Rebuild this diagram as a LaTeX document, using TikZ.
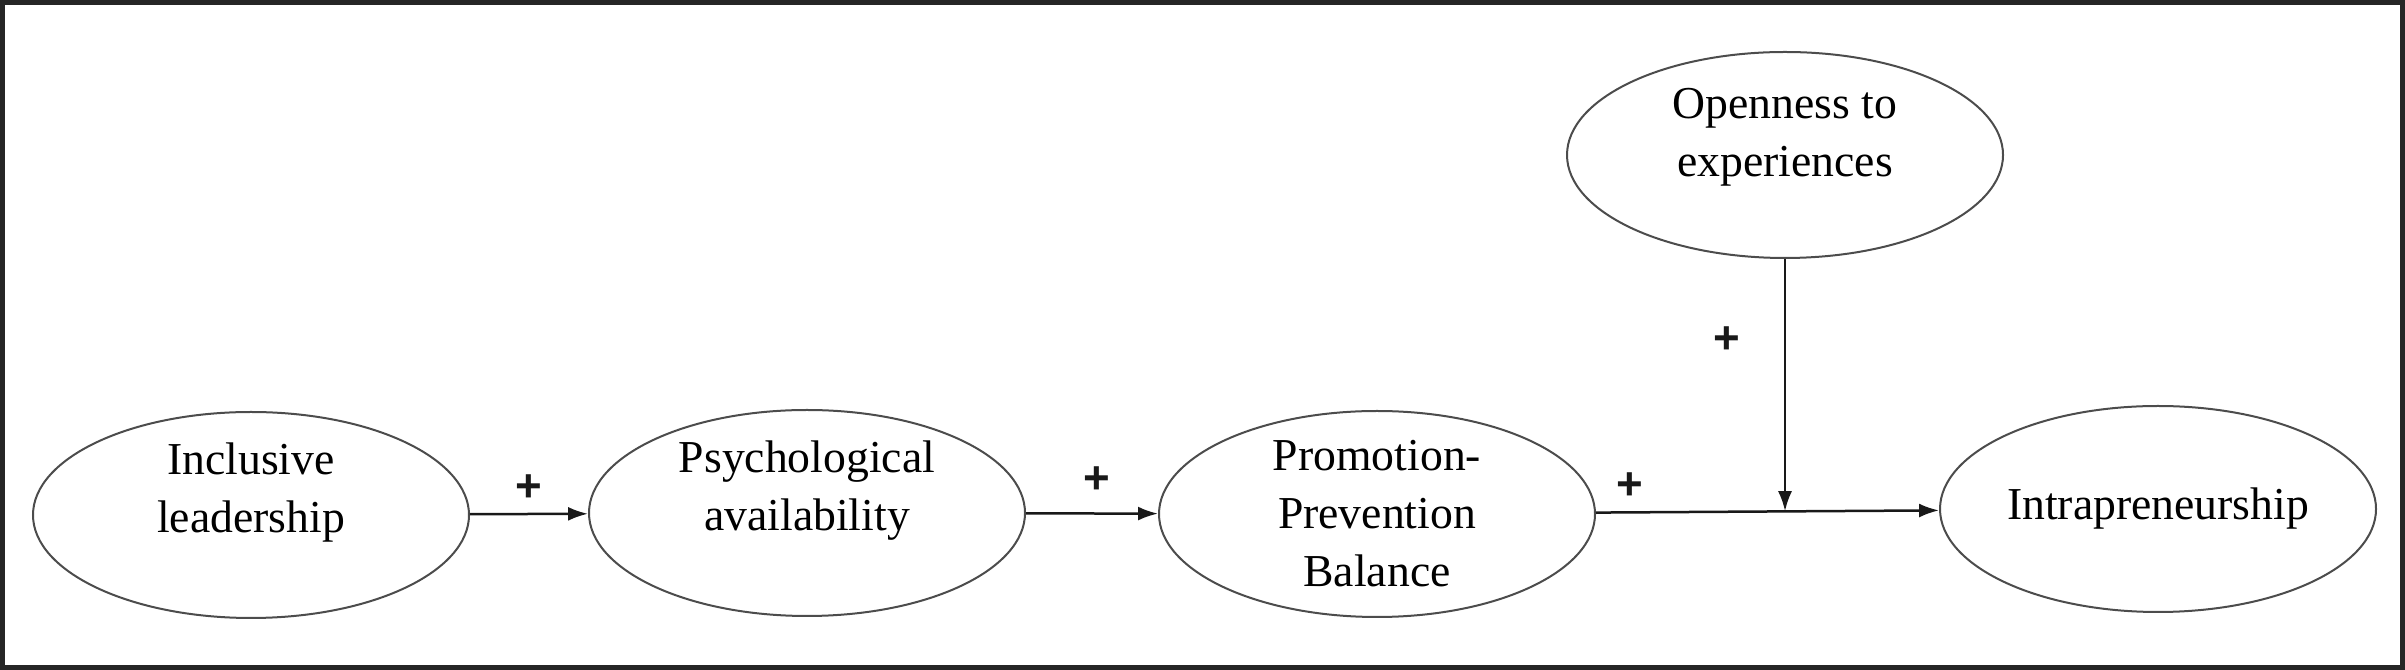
\documentclass[tikz,border=0pt]{standalone}
\usepackage{fontspec}
\setmainfont{Liberation Serif}
\newfontfamily\signfont{Liberation Sans}
\usepackage{tikz}
\usetikzlibrary{shapes.geometric, arrows.meta, positioning, calc}

\begin{document}
\begin{tikzpicture}[
    construct/.style={ellipse, draw=black!70, line width=0.2mm, minimum width=4.36cm, minimum height=2.06cm, inner sep=0pt},
    conceptname/.style={align=center, font=\fontsize{13}{16.5}\selectfont},
    sign/.style={font=\signfont\bfseries\fontsize{13}{13}\selectfont},
    link/.style={-{Latex[length=2mm,width=1.4mm]}, line width=0.25mm, black!90}
]
    \useasboundingbox (0,0) rectangle (24.05,6.70);
    \draw[line width=0.5mm, black!85] (0.025,0.025) rectangle (24.025,6.675);

    % Constructs
    \node[construct] (il) at (2.51,1.55) {};
    \node[construct] (pa) at (8.07,1.57) {};
    \node[construct] (ppb) at (13.77,1.56) {};
    \node[construct] (intra) at (21.58,1.61) {};
    \node[construct] (open) at (17.85,5.15) {};

    % Names
    \node[conceptname] (il-name) at ([yshift=2.2mm]il.center) {Inclusive\\leadership};
    \node[conceptname] (pa-name) at ([yshift=2.2mm]pa.center) {Psychological\\availability};
    \node[conceptname] (ppb-name) at (ppb.center) {Promotion-\\Prevention\\Balance};
    \node[conceptname] (intra-name) at (intra.center) {Intrapreneurship};
    \node[conceptname] (open-name) at ([yshift=1.8mm]open.center) {Openness to\\experiences};

    % Paths
    \coordinate (mod) at ($(ppb.east)!0.552!(intra.west)$);
    \draw[link] (il) -- node[sign, above] (s1) {+} (pa);
    \draw[link] (pa) -- node[sign, above=0.7mm, xshift=0.5mm] (s2) {+} (ppb);
    \draw[link] (ppb) -- node[sign, pos=0.1, above] (s3) {+} (intra);
    \draw[link] (open) -- node[sign, pos=0.32, left=3.2mm] (s4) {+} (open.south |- mod);
\end{tikzpicture}
\end{document}
